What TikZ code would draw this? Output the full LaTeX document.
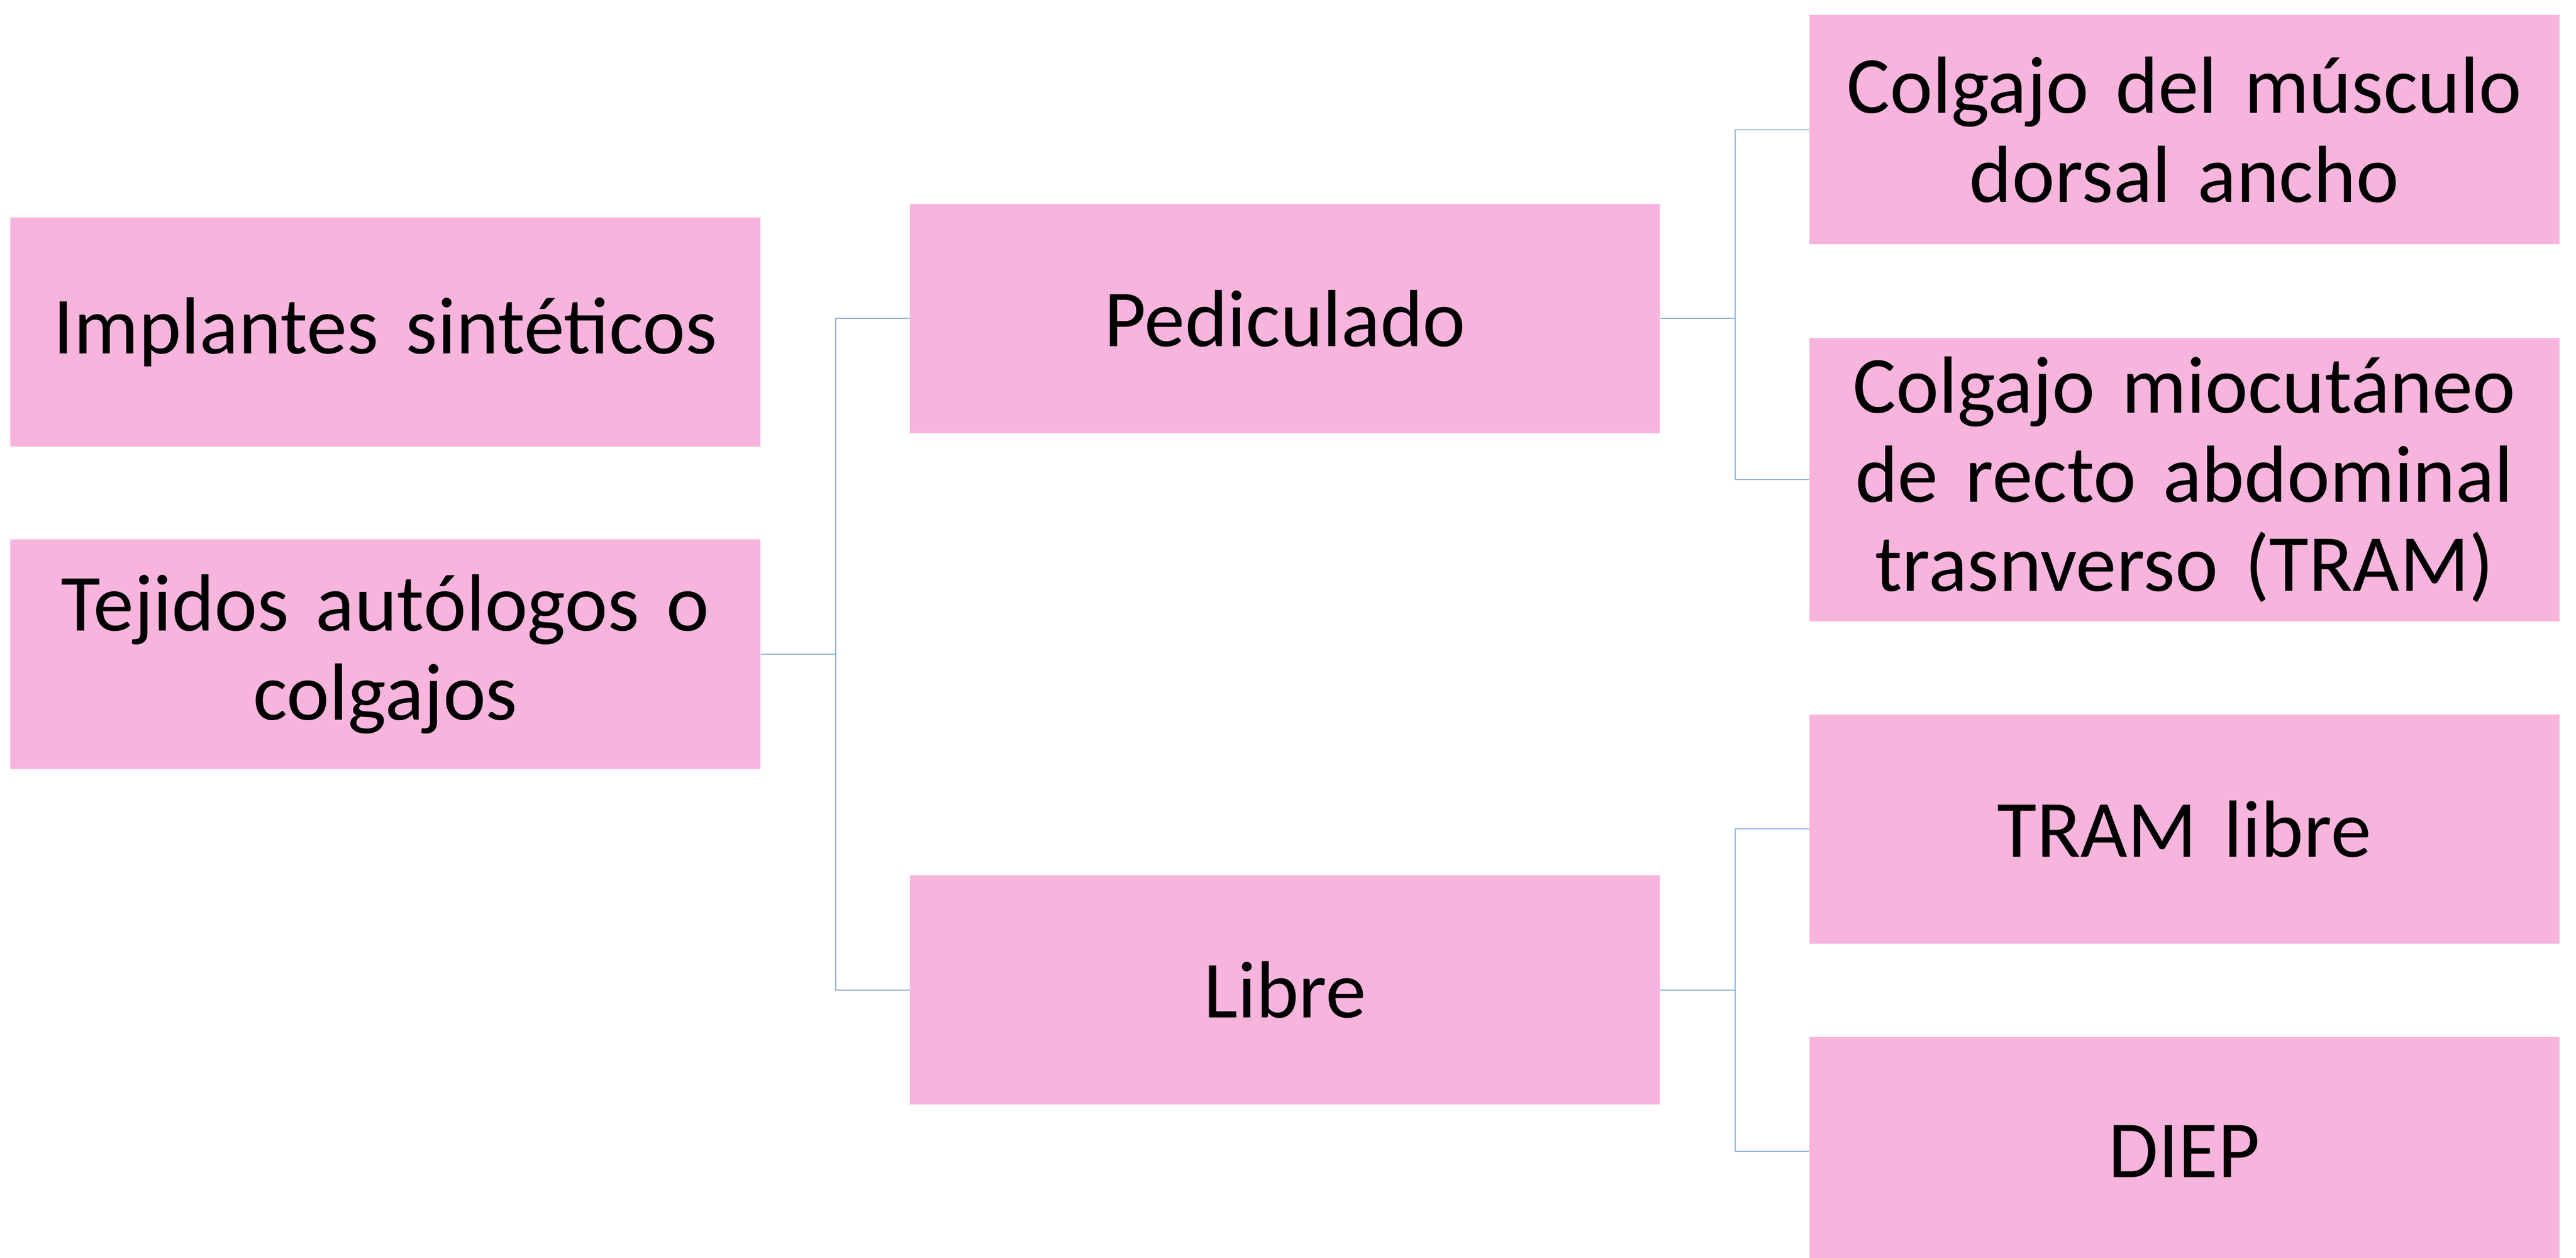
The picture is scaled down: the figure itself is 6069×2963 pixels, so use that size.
\documentclass[tikz,border=0pt]{standalone}
\usepackage{fontspec}
\setmainfont{Carlito}[WordSpace=0.72]
\definecolor{boxpink}{HTML}{F7B5DD}
\definecolor{linkblue}{HTML}{8FB3DB}
\begin{document}
\begin{tikzpicture}[x=0.01cm,y=-0.01cm,
  box/.style={rectangle, fill=boxpink, draw=none, inner sep=0pt,
    minimum width=17.66cm, minimum height=5.40cm, text width=17cm,
    align=center, font=\fontsize{54.3}{59.7}\selectfont},
  tallbox/.style={box, minimum height=6.68cm},
  conn/.style={draw=linkblue, line width=0.7pt}]
\useasboundingbox (0,0) rectangle (6069,2963);
\clip (0,0) rectangle (6069,2963);
% left column
\node[box] (imp) at (908,782.5) {Implantes sintéticos};
\node[box] (tej) at (908,1541.5) {Tejidos autólogos o\\colgajos};
% middle column
\node[box] (ped) at (3027.5,750.5) {Pediculado};
\node[box] (lib) at (3027.5,2332.5) {Libre};
% right column
\node[box] (dor) at (5146,305.5) {Colgajo del músculo\\dorsal ancho};
\node[tallbox] (mio) at (5146,1130) {Colgajo miocutáneo\\de recto abdominal\\trasnverso (TRAM)};
\node[box] (tra) at (5146,1953.5) {TRAM libre};
\node[box] (die) at (5146,2713) {DIEP};
% connectors
\draw[conn] (tej.east) -- ++(176.5,0) |- (ped.west);
\draw[conn] (tej.east) -- ++(176.5,0) |- (lib.west);
\draw[conn] (ped.east) -- ++(176,0) |- (dor.west);
\draw[conn] (ped.east) -- ++(176,0) |- (mio.west);
\draw[conn] (lib.east) -- ++(176,0) |- (tra.west);
\draw[conn] (lib.east) -- ++(176,0) |- (die.west);
\end{tikzpicture}
\end{document}
